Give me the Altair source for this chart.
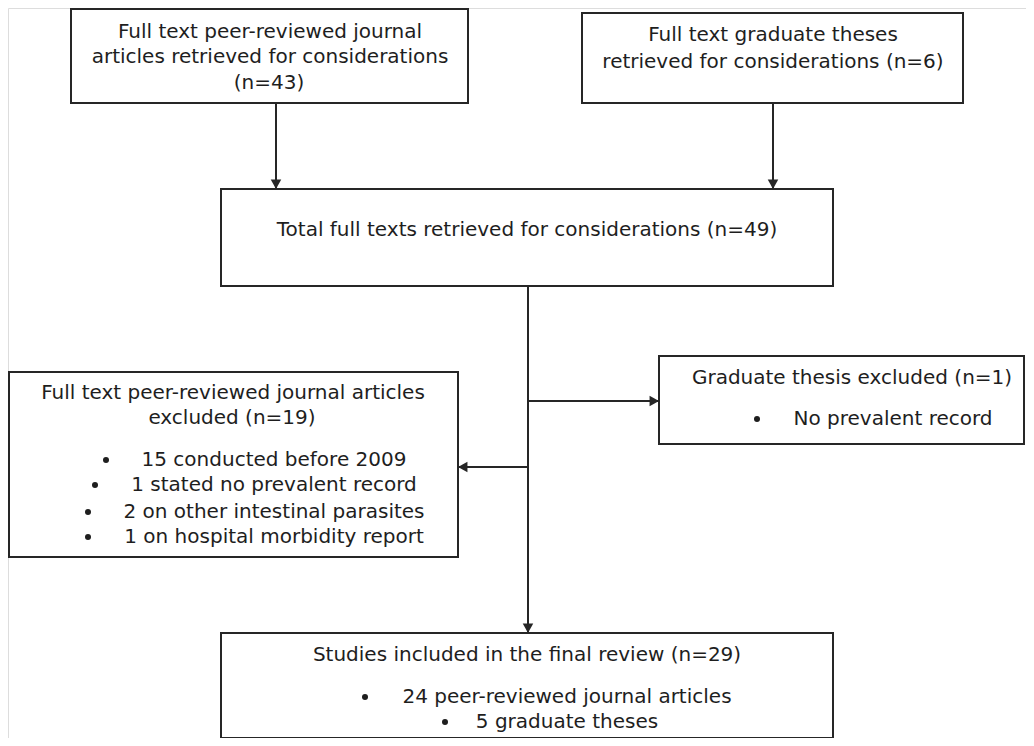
import altair as alt
import pandas as pd

# ---- Boxes (left, right, top, bottom), reference pixel units ----
box_x1 = [71, 582, 221, 9, 659, 221]
box_x2 = [468, 963, 833, 458, 1024, 833]
box_y1 = [9, 13, 189, 372, 356, 633]
box_y2 = [103, 103, 286, 557, 444, 745]

# ---- Connectors (start -> tip) ----
line_x1 = [276, 773, 528, 528, 528]
line_y1 = [103, 103, 286, 401, 467]
line_x2 = [276, 773, 528, 659, 458]
line_y2 = [189, 189, 633, 401, 467]
arrow_dir = ["down", "down", "down", "right", "left"]

# ---- Text lines ----
text_lines = [
    "Full text peer-reviewed journal",
    "articles retrieved for considerations",
    "(n=43)",
    "Full text graduate theses",
    "retrieved for considerations (n=6)",
    "Total full texts retrieved for considerations (n=49)",
    "Full text peer-reviewed journal articles",
    "excluded (n=19)",
    "15 conducted before 2009",
    "1 stated no prevalent record",
    "2 on other intestinal parasites",
    "1 on hospital morbidity report",
    "Graduate thesis excluded (n=1)",
    "No prevalent record",
    "Studies included in the final review (n=29)",
    "24 peer-reviewed journal articles",
    "5 graduate theses",
]
text_x = [270, 270, 269, 773, 773, 527, 233, 232, 274, 274, 274, 274, 852, 893, 527, 567, 567]
text_y = [32, 57, 83, 35, 62, 230, 393, 418, 460, 485, 512, 537, 378, 419, 655, 697, 722]

# ---- Bullets ----
bullet_x = [106, 95, 88, 88, 757, 365, 445]
bullet_y = [460, 485, 512, 537, 419, 697, 722]

shapes = {
    "down": "M0,0L-1,-1.8L1,-1.8Z",
    "right": "M0,0L-1.8,-1L-1.8,1Z",
    "left": "M0,0L1.8,-1L1.8,1Z",
}

boxes = pd.DataFrame({"x1": box_x1, "x2": box_x2, "y1": box_y1, "y2": box_y2})
lines = pd.DataFrame({"x1": line_x1, "y1": line_y1, "x2": line_x2, "y2": line_y2,
                      "shape": [shapes[d] for d in arrow_dir]})
texts = pd.DataFrame({"x": text_x, "y": text_y, "t": text_lines})
bullets = pd.DataFrame({"x": bullet_x, "y": bullet_y})

W, H = 1018, 730
xs = alt.Scale(domain=[8, 8 + W], clamp=True)
ys = alt.Scale(domain=[8, 8 + H], reverse=True, clamp=True)
INK = "#262626"

rects = alt.Chart(boxes).mark_rect(fill="white", stroke=INK, strokeWidth=2).encode(
    x=alt.X("x1:Q", scale=xs, axis=None),
    x2="x2:Q",
    y=alt.Y("y1:Q", scale=ys, axis=None),
    y2="y2:Q",
)

rules = alt.Chart(lines).mark_rule(color=INK, strokeWidth=2).encode(
    x=alt.X("x1:Q", scale=xs, axis=None),
    x2="x2:Q",
    y=alt.Y("y1:Q", scale=ys, axis=None),
    y2="y2:Q",
)

heads = alt.Chart(lines).mark_point(filled=True, color=INK, opacity=1, size=110).encode(
    x=alt.X("x2:Q", scale=xs, axis=None),
    y=alt.Y("y2:Q", scale=ys, axis=None),
    shape=alt.Shape("shape:N", scale=None),
)

labels = alt.Chart(texts).mark_text(
    font="DejaVu Sans", fontSize=20, color="#1e1e1e", align="center", baseline="middle"
).encode(
    x=alt.X("x:Q", scale=xs, axis=None),
    y=alt.Y("y:Q", scale=ys, axis=None),
    text="t:N",
)

dots = alt.Chart(bullets).mark_point(filled=True, shape="circle", color="#1e1e1e", opacity=1, size=36).encode(
    x=alt.X("x:Q", scale=xs, axis=None),
    y=alt.Y("y:Q", scale=ys, axis=None),
)

chart = alt.layer(rects, rules, heads, labels, dots).properties(
    width=W, height=H, padding=0, autosize=alt.AutoSizeParams(type="none")
).configure_view(stroke=None).configure(background="white")

chart.save("out.html", embed_options={"renderer": "svg", "actions": False})
